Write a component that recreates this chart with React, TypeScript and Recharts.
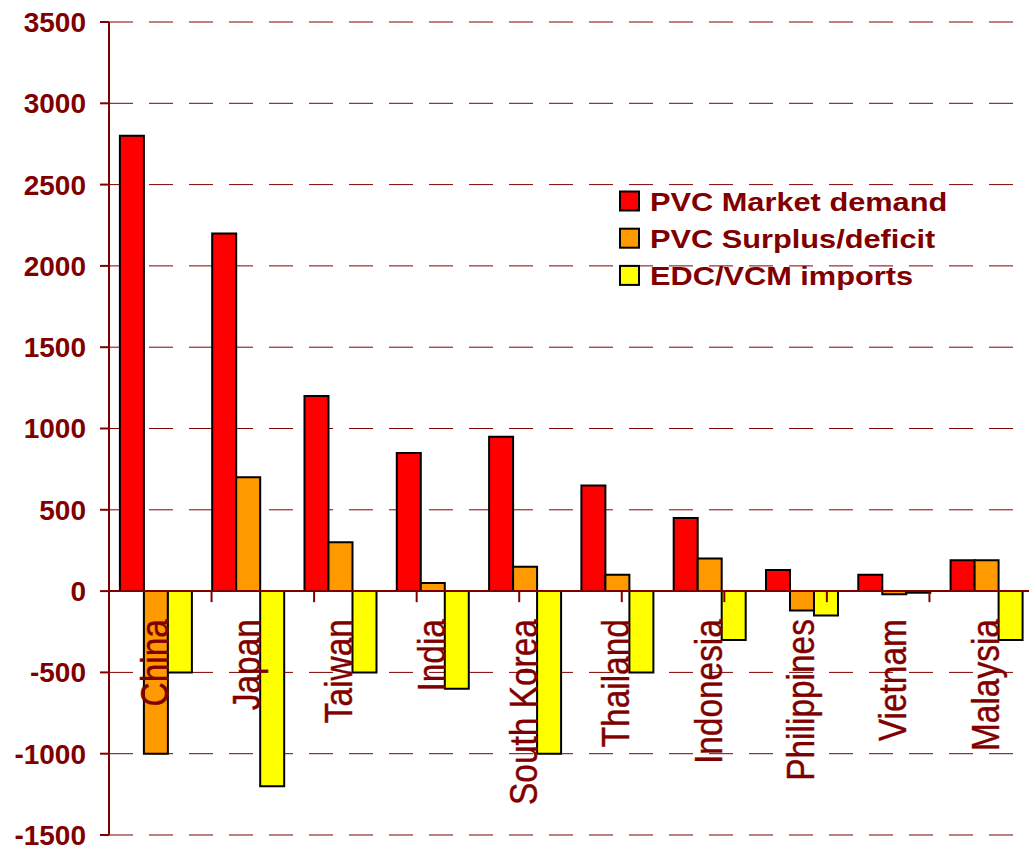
import {
  Bar,
  BarChart,
  CartesianGrid,
  LabelList,
  Legend,
  ReferenceLine,
  XAxis,
  YAxis,
} from "recharts";

const countries = [
  "China",
  "Japan",
  "Taiwan",
  "India",
  "South Korea",
  "Thailand",
  "Indonesia",
  "Philippines",
  "Vietnam",
  "Malaysia",
];
const marketDemand = [2800, 2200, 1200, 850, 950, 650, 450, 130, 100, 190];
const surplusDeficit = [-1000, 700, 300, 50, 150, 100, 200, -120, -20, 190];
const edcVcmImports = [-500, -1200, -500, -600, -1000, -500, -300, -150, -10, -300];
const yTicks = [-1500, -1000, -500, 0, 500, 1000, 1500, 2000, 2500, 3000, 3500];
const seriesNames = ["PVC Market demand", "PVC Surplus/deficit", "EDC/VCM imports"];
const seriesColors = ["#FF0000", "#FF9900", "#FFFF00"];

const DARK_RED = "#800000";
const FONT = '"Liberation Sans", Arial, sans-serif';

const data = countries.map((name, i) => ({
  name,
  demand: marketDemand[i],
  surplus: surplusDeficit[i],
  imports: edcVcmImports[i],
}));

// category boundaries, used for the little tick marks under the zero line
const boundaries = countries.map((_, i) => i).filter((i) => i > 0);

// Country name drawn under the zero line, reading bottom-to-top.
// Hung off the red bar: its bottom edge is the zero line, group centre is 1.5 bars over.
function CountryLabel(props: any) {
  const box = props.viewBox && props.viewBox.width != null ? props.viewBox : props;
  const { x, y, width, height, value } = { ...box, value: props.value };
  const cx = x + width * 1.5;
  const zeroY = Math.max(y, y + height);
  return (
    <text
      transform={`translate(${cx + 12},${zeroY + 28}) rotate(-90) scale(0.88,1)`}
      textAnchor="end"
      fontSize={38}
      fontFamily={FONT}
      fill={DARK_RED}
      stroke={DARK_RED}
      strokeWidth={0.4}
    >
      {value}
    </text>
  );
}

function LegendBox() {
  return (
    <svg width={360} height={110}>
      {seriesNames.map((n, i) => (
        <g key={n} transform={`translate(0,${i * 37.2})`}>
          <rect
            x={1}
            y={11.5}
            width={19}
            height={19}
            fill={seriesColors[i]}
            stroke="#000"
            strokeWidth={2}
          />
          <text
            transform="translate(31,30.7) scale(1.23,1)"
            fontSize={25}
            fontWeight="bold"
            fontFamily={FONT}
            fill={DARK_RED}
          >
            {n}
          </text>
        </g>
      ))}
    </svg>
  );
}

export default function App() {
  return (
    <div
      style={{
        position: "fixed",
        left: 0,
        top: 0,
        width: 1029,
        height: 849,
        overflow: "hidden",
        background: "#fff",
      }}
    >
      <BarChart
        width={1040}
        height={849}
        data={data}
        margin={{ top: 22, right: 8, bottom: 14, left: 0 }}
        barCategoryGap="11.8%"
        barGap={0}
      >
        <CartesianGrid vertical={false} stroke={DARK_RED} strokeDasharray="24 16" />
        <XAxis dataKey="name" hide />
        <XAxis xAxisId="num" type="number" domain={[0, countries.length]} hide allowDataOverflow />
        <YAxis
          domain={[-1500, 3500]}
          ticks={yTicks}
          width={109}
          interval={0}
          tickSize={9}
          tickMargin={14}
          axisLine={{ stroke: DARK_RED, strokeWidth: 2 }}
          tickLine={{ stroke: DARK_RED, strokeWidth: 2 }}
          tick={{ fill: DARK_RED, fontSize: 28, fontWeight: "bold", fontFamily: FONT }}
          allowDataOverflow
        />
        <Legend
          layout="vertical"
          align="center"
          verticalAlign="middle"
          content={() => <LegendBox />}
          wrapperStyle={{ position: "absolute", left: 619, top: 180, width: 360, height: 110 }}
        />
        <Bar dataKey="demand" name={seriesNames[0]} fill={seriesColors[0]} stroke="#000" strokeWidth={2} isAnimationActive={false}>
          <LabelList dataKey="name" content={CountryLabel} />
        </Bar>
        <Bar dataKey="surplus" name={seriesNames[1]} fill={seriesColors[1]} stroke="#000" strokeWidth={2} isAnimationActive={false} />
        <Bar dataKey="imports" name={seriesNames[2]} fill={seriesColors[2]} stroke="#000" strokeWidth={2} isAnimationActive={false} />
        <ReferenceLine y={0} stroke={DARK_RED} strokeWidth={2} />
        {boundaries.map((b) => (
          <ReferenceLine
            key={b}
            xAxisId="num"
            segment={[
              { x: b, y: 0 },
              { x: b, y: -68 },
            ]}
            stroke={DARK_RED}
            strokeWidth={2}
          />
        ))}
      </BarChart>
    </div>
  );
}
